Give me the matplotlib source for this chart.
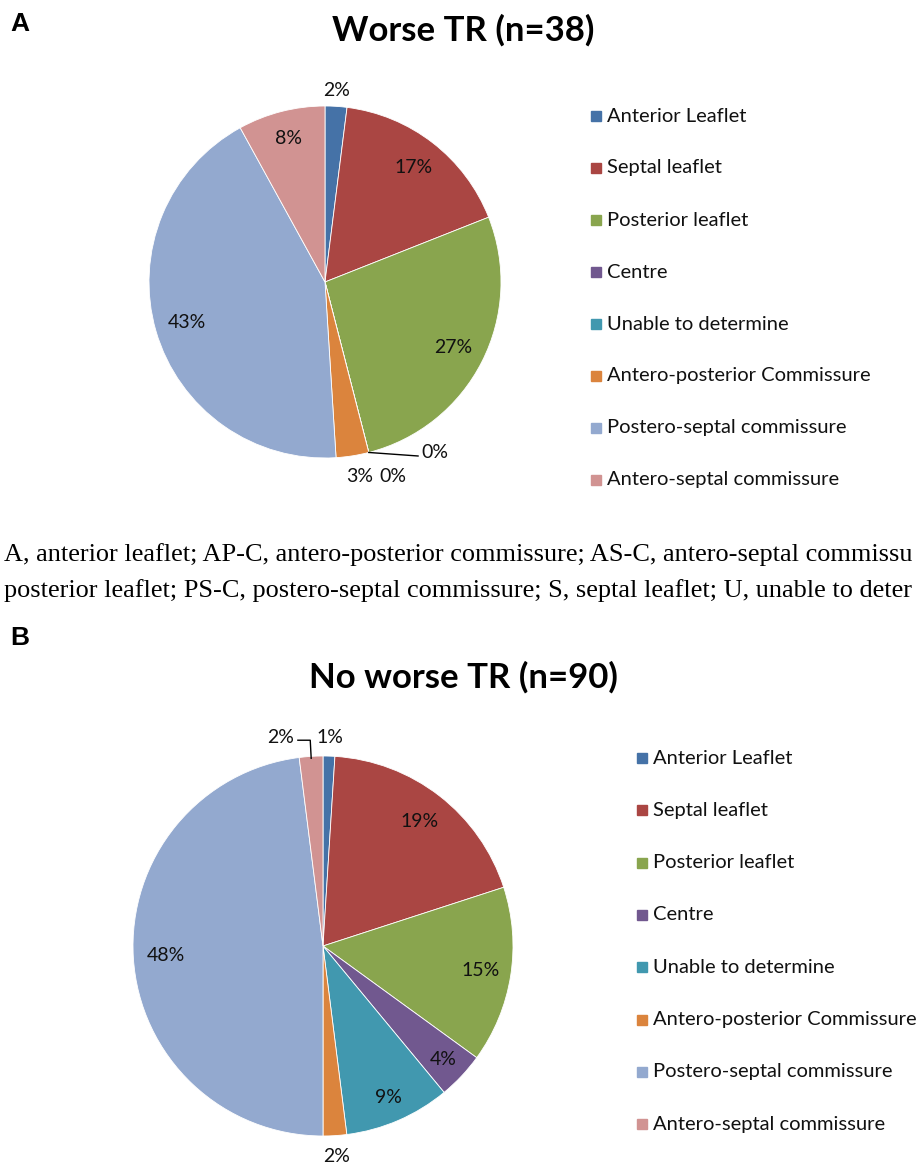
import matplotlib.pyplot as plt
import numpy as np

plt.rcParams['font.family'] = ['Lato', 'DejaVu Sans']

categories = ["Anterior Leaflet", "Septal leaflet", "Posterior leaflet", "Centre",
              "Unable to determine", "Antero-posterior Commissure",
              "Postero-septal commissure", "Antero-septal commissure"]
colors = ["#4572A7", "#AA4643", "#89A54E", "#71588F",
          "#4198AF", "#DB843D", "#93A9CF", "#D19392"]

worse_pct = [2, 17, 27, 0, 0, 3, 43, 8]
no_worse_pct = [1, 19, 15, 4, 9, 2, 48, 2]

title_a = "Worse TR (n=38)"
title_b = "No worse TR (n=90)"

# caption as visible in the reference (cut at the right edge)
caption = ["A, anterior leaflet; AP-C, antero-posterior commissure; AS-C, antero-septal commissu",
           "posterior leaflet; PS-C, postero-septal commissure; S, septal leaflet; U, unable to deter"]

W, H = 922, 1166
fig = plt.figure(figsize=(W / 100, H / 100), dpi=100)
LBL = 14


def px_axes(cx, cy, r):
    return fig.add_axes([(cx - r) / W, (H - cy - r) / H, 2 * r / W, 2 * r / H])


def draw_pie(ax, values, label_pos):
    wedges, _ = ax.pie(values, colors=colors, startangle=90, counterclock=False,
                       wedgeprops=dict(edgecolor="white", linewidth=0.6))
    ax.set_xlim(-1, 1)
    ax.set_ylim(-1, 1)
    ax.set_aspect("equal")
    ax.axis("off")
    for i, w in enumerate(wedges):
        mid = np.deg2rad((w.theta1 + w.theta2) / 2)
        if i not in label_pos:
            continue
        r, dx, dy = label_pos[i]
        ax.text(r * np.cos(mid) + dx, r * np.sin(mid) + dy, "%d%%" % values[i],
                ha="center", va="center", fontsize=LBL, color="#111111", clip_on=False)
    return wedges


def draw_legend(x, y0, step):
    for i, name in enumerate(categories):
        y = y0 + i * step
        fig.patches.append(plt.Rectangle(((x - 5) / W, (H - y - 5) / H), 10 / W, 10 / H,
                                         transform=fig.transFigure, color=colors[i]))
        fig.text((x + 11) / W, (H - y) / H, name, fontsize=14.5, va="center", ha="left",
                 color="#111111")


# panel A
ax_a = px_axes(325, 282, 176)
wa = draw_pie(ax_a, worse_pct, {0: (1.09, 0, 0), 1: (0.82, 0, 0), 2: (0.82, 0, 0),
                                5: (1.12, 0.02, 0), 6: (0.82, 0, 0), 7: (0.84, 0, 0)})
# zero slices: one with leader line, one beside 3%
mid0 = np.deg2rad((wa[3].theta1 + wa[3].theta2) / 2)
x0, y0 = np.cos(mid0), np.sin(mid0)
ax_a.plot([x0, x0 + 0.14, x0 + 0.28], [y0, y0 - 0.01, y0 - 0.02], color="black", lw=1,
          clip_on=False)
ax_a.text(x0 + 0.30, y0 + 0.0, "0%", fontsize=LBL, ha="left", va="center", color="#111111")
mid1 = np.deg2rad((wa[4].theta1 + wa[4].theta2) / 2)
ax_a.text(1.1 * np.cos(mid1) + 0.112, 1.1 * np.sin(mid1) - 0.042, "0%", fontsize=LBL,
          ha="center", va="center", color="#111111")

fig.text(463 / W, (H - 30) / H, title_a, fontsize=25, fontweight="bold", ha="center",
         va="center")
fig.text(10 / W, (H - 24) / H, "A", fontsize=19, fontweight="bold", ha="left", va="center",
         family=["Liberation Sans"])
draw_legend(596, 116, 52)

# caption
for k, line in enumerate(caption):
    fig.text(4 / W, (H - 555 - k * 36) / H, line, fontsize=18.9, ha="left", va="center",
             family=["Liberation Serif"])

# panel B
ax_b = px_axes(323, 946, 190)
wb = draw_pie(ax_b, no_worse_pct, {0: (1.1, 0.0, 0), 1: (0.83, 0, 0), 2: (0.84, 0, 0),
                                   3: (0.87, 0, 0), 4: (0.87, 0, 0), 5: (1.11, 0, 0),
                                   6: (0.83, 0, 0)})
midp = np.deg2rad((wb[7].theta1 + wb[7].theta2) / 2)
px, py = np.cos(midp) * 0.99, np.sin(midp) * 0.99
ax_b.plot([px, px - 0.005, px - 0.07], [py, py + 0.095, py + 0.095], color="black", lw=1,
          clip_on=False)
ax_b.text(px - 0.16, py + 0.11, "%d%%" % no_worse_pct[7], fontsize=LBL, ha="center",
          va="center", color="#111111")

fig.text(463 / W, (H - 677) / H, title_b, fontsize=25, fontweight="bold", ha="center",
         va="center")
fig.text(10 / W, (H - 638) / H, "B", fontsize=19, fontweight="bold", ha="left", va="center",
         family=["Liberation Sans"])
draw_legend(642, 758, 52.3)

fig.savefig("out.png", dpi=100)
